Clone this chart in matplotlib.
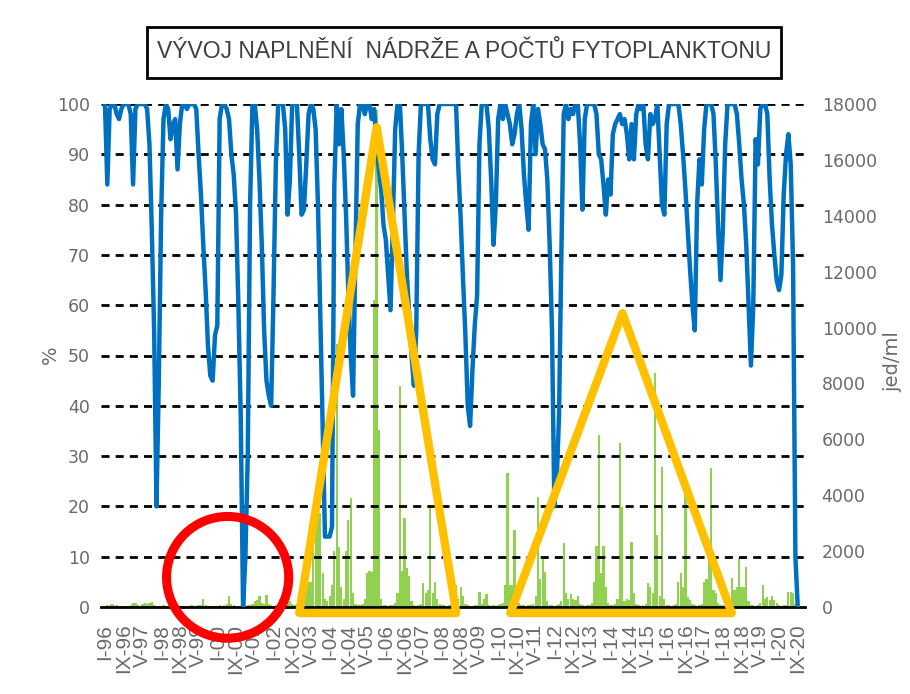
import numpy as np
import matplotlib.pyplot as plt
from matplotlib import font_manager
from matplotlib.patches import Ellipse, Polygon, Rectangle

# x tick labels, one every 8 months (I-96 ... IX-20)
tick_labels = ["I-96", "IX-96", "V-97", "I-98", "IX-98", "V-99", "I-00", "IX-00",
               "V-01", "I-02", "IX-02", "V-03", "I-04", "IX-04", "V-05", "I-06",
               "IX-06", "V-07", "I-08", "IX-08", "V-09", "I-10", "IX-10", "V-11",
               "I-12", "IX-12", "V-13", "I-14", "IX-14", "V-15", "I-16", "IX-16",
               "V-17", "I-18", "IX-18", "V-19", "I-20", "IX-20"]

# reservoir fill (%), monthly from I-96
fill = [100, 84, 99, 100, 100, 98, 97, 99, 100, 100,
        100, 98, 84, 99, 100, 100, 100, 100, 99, 92,
        75, 55, 20, 45, 78, 97, 100, 99, 93, 96,
        97, 87, 96, 100, 100, 99, 100, 100, 100, 99,
        90, 82, 72, 63, 52, 46, 45, 54, 56, 97,
        100, 100, 99, 97, 90, 86, 78, 60, 38, 0,
        10, 30, 80, 100, 100, 95, 85, 72, 55, 45,
        42, 40, 62, 88, 100, 100, 100, 95, 78, 85,
        100, 100, 100, 90, 78, 79, 88, 98, 100, 99,
        95, 80, 58, 35, 14, 14, 14, 16, 84, 100,
        92, 99, 90, 78, 62, 50, 42, 70, 96, 100,
        100, 98, 100, 100, 97, 99, 92, 87, 83, 76,
        73, 66, 59, 76, 95, 100, 100, 90, 78, 66,
        58, 50, 44, 55, 90, 100, 100, 100, 100, 93,
        89, 88, 98, 100, 100, 100, 100, 100, 100, 100,
        100, 87, 77, 65, 54, 40, 36, 47, 56, 62,
        92, 100, 100, 100, 95, 85, 72, 80, 97, 100,
        97, 100, 98, 96, 92, 94, 98, 100, 95, 86,
        80, 75, 96, 100, 90, 99, 96, 92, 91, 85,
        72, 55, 20, 25, 38, 70, 98, 100, 97, 99,
        98, 100, 100, 92, 79, 97, 100, 100, 100, 100,
        98, 90, 89, 84, 78, 85, 82, 94, 96, 97,
        98, 96, 97, 94, 89, 96, 89, 98, 100, 99,
        100, 92, 89, 98, 96, 97, 100, 90, 80, 78,
        96, 100, 100, 100, 100, 100, 96, 90, 83, 75,
        67, 60, 55, 80, 89, 84, 95, 100, 100, 100,
        98, 88, 75, 65, 75, 92, 100, 100, 100, 100,
        98, 92, 85, 80, 72, 60, 48, 60, 93, 88,
        99, 100, 100, 98, 85, 76, 70, 65, 63, 66,
        82, 90, 94, 88, 68, 10, 0]

# phytoplankton (jed/ml), monthly from I-96
phyto = [50, 80, 60, 100, 80, 60, 40, 30, 50, 30,
         40, 60, 130, 150, 60, 40, 100, 150, 120, 160,
         180, 60, 40, 30, 40, 60, 40, 30, 50, 40,
         30, 60, 40, 30, 20, 30, 40, 60, 40, 30,
         60, 80, 280, 60, 40, 30, 20, 30, 40, 60,
         40, 60, 90, 400, 120, 60, 40, 30, 20, 20,
         40, 60, 80, 120, 200, 250, 400, 150, 120, 420,
         100, 60, 40, 60, 100, 280, 150, 400, 300, 200,
         100, 80, 100, 150, 200, 400, 700, 900, 880, 3300,
         3350, 3300, 3350, 1200, 300, 200, 400, 800, 2000, 9400,
         2150, 700, 300, 2000, 3100, 3900, 500, 100, 80, 60,
         100, 300, 1200, 1300, 1250, 11000, 17800, 6350, 300, 80,
         60, 40, 60, 80, 150, 500, 7900, 1300, 3200, 1400,
         1100, 200, 60, 40, 60, 100, 850, 500, 600, 3650,
         500, 900, 300, 100, 60, 60, 40, 60, 100, 500,
         800, 300, 700, 400, 100, 60, 40, 40, 60, 80,
         550, 100, 300, 450, 60, 40, 60, 40, 80, 100,
         150, 800, 4780, 800, 800, 2750, 600, 150, 80, 60,
         40, 60, 80, 100, 400, 3950, 1000, 1750, 1260, 200,
         80, 60, 40, 80, 100, 200, 2280, 500, 300, 450,
         300, 250, 400, 100, 60, 40, 60, 80, 150, 900,
         2200, 6150, 1200, 2200, 700, 150, 80, 60, 100, 300,
         5860, 3590, 200, 300, 250, 2340, 500, 100, 60, 40,
         60, 100, 850, 700, 500, 8360, 2580, 400, 5020, 300,
         80, 60, 40, 60, 100, 900, 1200, 700, 4190, 350,
         250, 100, 60, 40, 60, 100, 900, 1000, 1680, 4960,
         600, 500, 150, 80, 60, 40, 60, 300, 1030, 600,
         700, 1740, 700, 700, 1440, 200, 80, 60, 40, 60,
         150, 790, 300, 350, 250, 400, 250, 150, 60, 40,
         60, 80, 550, 550, 500, 100, 0]

title = "VÝVOJ NAPLNĚNÍ  NÁDRŽE A POČTŮ FYTOPLANKTONU"

months = np.arange(len(fill))
gray = "#6a6a6a"

names = {f.name for f in font_manager.fontManager.ttflist}
narrow = "Liberation Sans Narrow" in names
title_font = "Liberation Sans Narrow" if narrow else "Liberation Sans"

fig = plt.figure(figsize=(9.1, 6.94), dpi=100)
ax = fig.add_axes([101/910, 87/694, 704/910, 503/694])
ax2 = ax.twinx()

# phytoplankton columns on right axis
ax2.bar(months, phyto, width=0.95, color="#92D050", linewidth=0)
ax2.set_ylim(0, 18000)
ax2.set_yticks(range(0, 18001, 2000))
ax2.tick_params(axis="y", length=0, pad=12, labelsize=12.5, labelcolor=gray)

ax.set_zorder(ax2.get_zorder() + 1)
ax.patch.set_visible(False)

for v in range(10, 101, 10):
    ax.axhline(v, color="black", lw=2, ls=(0, (2.9, 2.2)), zorder=1)

ax.plot(months, fill, color="#0070C0", lw=3.2, zorder=3)
ax.set_xlim(-1.7, 299.1)
ax.set_ylim(0, 100)
ax.set_yticks(range(0, 101, 10))
ax.tick_params(axis="y", length=0, pad=8, labelsize=12.5, labelcolor=gray)
ax.set_xticks(months[::8])
ax.set_xticklabels(tick_labels, rotation=90, fontsize=15, color=gray,
                   family="Liberation Sans")
ax.tick_params(axis="x", length=0, pad=12)

for a in (ax, ax2):
    for s in ("left", "right", "top", "bottom"):
        a.spines[s].set_visible(False)
ax.spines["bottom"].set_visible(True)
ax.spines["bottom"].set_linewidth(2)
ax.spines["bottom"].set_color("black")

fig.text(50/910, 1 - 355/694, "%", rotation=90, ha="center", va="center",
         fontsize=14, color=gray)
fig.text(893/910, 1 - 362/694, "jed/ml", rotation=90, ha="center", va="center",
         fontsize=14, color=gray)

# highlight shapes
tri1 = Polygon([(83, -1.2), (116.1, 95.4), (150.1, -1.2)], closed=True, fill=False,
               edgecolor="#FFC000", lw=6, joinstyle="round", clip_on=False, zorder=5)
tri2 = Polygon([(173.2, -1.2), (221.1, 58.4), (267.8, -1.2)], closed=True, fill=False,
               edgecolor="#FFC000", lw=6, joinstyle="round", clip_on=False, zorder=5)
ring = Ellipse((52.4, 5.9), 52.2, 24.2, fill=False, edgecolor="#FF0000", lw=6.5,
               clip_on=False, zorder=6)
for p in (tri1, tri2, ring):
    ax.add_patch(p)

# title box
fig.add_artist(Rectangle((147/910, 1 - 78/694), 634/910, 51/694, transform=fig.transFigure,
                         facecolor="white", edgecolor="black", lw=2))
fig.text(464/910, 1 - 52/694, title, ha="center", va="center", color="#404040",
         fontsize=20 if narrow else 16.5, family=title_font)

fig.savefig("out.png", dpi=100)
